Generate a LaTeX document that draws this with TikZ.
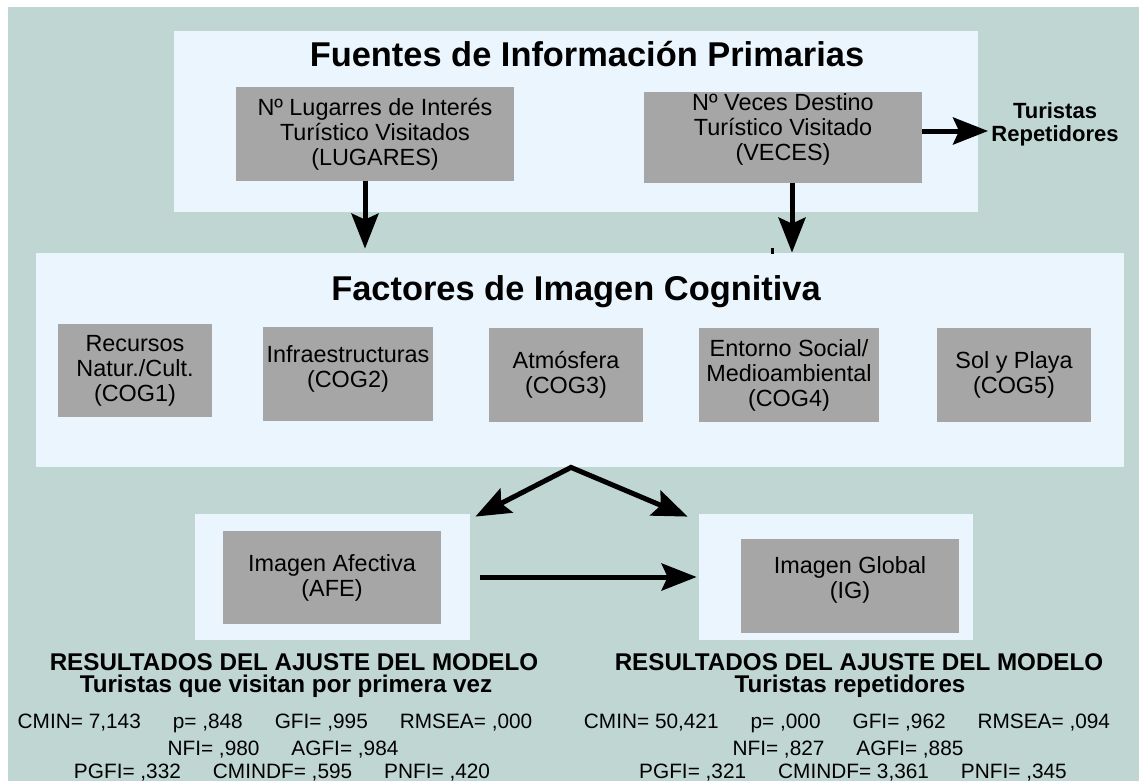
\documentclass[tikz,border=0pt]{standalone}
\usepackage{fontspec}
\setmainfont{Liberation Sans}
\usetikzlibrary{arrows.meta}
\definecolor{bgteal}{RGB}{191,214,211}
\definecolor{panelblue}{RGB}{235,245,254}
\definecolor{boxgrey}{RGB}{166,166,166}
\newcommand{\statgap}{\hspace{16pt}}

\begin{document}
\begin{tikzpicture}[x=0.5pt, y=-0.5pt,
    >={Stealth[length=17.5pt, width=13.5pt, inset=3pt]},
    panel/.style={rectangle, fill=panelblue, inner sep=0pt},
    varbox/.style={rectangle, fill=boxgrey, align=center, inner sep=0pt, font=\fontsize{11.7}{12.5}\selectfont},
    heading/.style={anchor=base, font=\bfseries\fontsize{17.2}{18}\selectfont},
    result/.style={anchor=base, inner sep=0pt, font=\bfseries\fontsize{12.1}{12.5}\selectfont},
    stat/.style={anchor=base, font=\fontsize{10.4}{11}\selectfont},
    arr/.style={->, line width=2.5pt}
]
    \useasboundingbox (0,0) rectangle (1139,781);
    \fill[white] (0,0) rectangle (1139,781);
    \fill[bgteal] (8,7) rectangle (1139,781);

    % primary sources
    \node[panel, minimum width=402pt, minimum height=90.5pt] (src) at (576,121.5) {};
    \node[heading] (srctitle) at (587,67) {Fuentes de Información Primarias};
    \node[varbox, minimum width=139pt, minimum height=47pt] (lug) at (375,134) {Nº Lugarres de Interés\\Turístico Visitados\\(LUGARES)};
    \node[varbox, minimum width=139pt, minimum height=45.5pt, text depth=10pt] (vec) at (783,137.5) {Nº Veces Destino\\Turístico Visitado\\(VECES)};
    \node[font=\bfseries\fontsize{11}{11.5}\selectfont, align=center, inner sep=1.5pt] (rep) at (1055,124.5) {Turistas\\Repetidores};

    % cognitive factors
    \node[panel, minimum width=544pt, minimum height=107pt] (fac) at (580,360) {};
    \node[heading] (factitle) at (576,300) {Factores de Imagen Cognitiva};
    \node[varbox, minimum width=77pt, minimum height=46.5pt] (cog1) at (135,370.5) {Recursos\\Natur./Cult.\\(COG1)};
    \node[varbox, minimum width=85pt, minimum height=47pt, text depth=7pt] (cog2) at (348,374) {Infraestructuras\\(COG2)};
    \node[varbox, minimum width=77pt, minimum height=47pt] (cog3) at (566,375) {Atmósfera\\(COG3)};
    \node[varbox, minimum width=90pt, minimum height=47pt] (cog4) at (789,375) {Entorno Social/\\Medioambiental\\(COG4)};
    \node[varbox, minimum width=77pt, minimum height=47pt] (cog5) at (1014,375) {Sol y Playa\\(COG5)};

    % affective and global image
    \node[panel, minimum width=137.5pt, minimum height=63pt] (afep) at (332.5,577) {};
    \node[varbox, minimum width=109pt, minimum height=46.5pt] (afe) at (332,577.5) {Imagen Afectiva\\(AFE)};
    \node[panel, minimum width=137pt, minimum height=63pt] (igp) at (836,577) {};
    \node[varbox, minimum width=109pt, minimum height=47pt, text depth=8pt] (ig) at (850,586) {Imagen Global\\(IG)};

    % fit results
    \node[result] (res1) at (294,670) {RESULTADOS DEL AJUSTE DEL MODELO};
    \node[result] (sub1) at (286,692) {Turistas que visitan por primera vez};
    \node[result] (res2) at (859,670) {RESULTADOS DEL AJUSTE DEL MODELO};
    \node[result] (sub2) at (850,692) {Turistas repetidores};
    \node[stat] (fit1a) at (275,728) {CMIN= 7,143\statgap p= ,848\statgap GFI= ,995\statgap RMSEA= ,000};
    \node[stat] (fit1b) at (283,755) {NFI= ,980\statgap AGFI= ,984};
    \node[stat] (fit1c) at (282,778) {PGFI= ,332\statgap CMINDF= ,595\statgap PNFI= ,420};
    \node[stat] (fit2a) at (847,728) {CMIN= 50,421\statgap p= ,000\statgap GFI= ,962\statgap RMSEA= ,094};
    \node[stat] (fit2b) at (848,755) {NFI= ,827\statgap AGFI= ,885};
    \node[stat] (fit2c) at (853,778) {PGFI= ,321\statgap CMINDF= 3,361\statgap PNFI= ,345};

    % arrows
    \draw[arr, shorten >=2pt] ([xshift=-5pt]lug.south) -- ([xshift=-5pt]lug.south |- fac.north);
    \draw[arr] ([xshift=4.5pt]vec.south) -- ([xshift=4.5pt]vec.south |- fac.north);
    \fill (770.5,248) rectangle (773.5,254);
    \draw[arr] ([yshift=3.25pt]vec.east) -- ([yshift=3.25pt]vec.east -| rep.west);

    \coordinate (split) at ([xshift=-4.5pt]fac.south);
    \draw[arr, <->] ([shift={(5,3)}]afep.north east) -- (split) -- ([shift={(-11,3)}]igp.north west);
    \draw[arr, shorten >=1pt] ([xshift=5pt]afep.east) -- (igp.west);
\end{tikzpicture}
\end{document}
